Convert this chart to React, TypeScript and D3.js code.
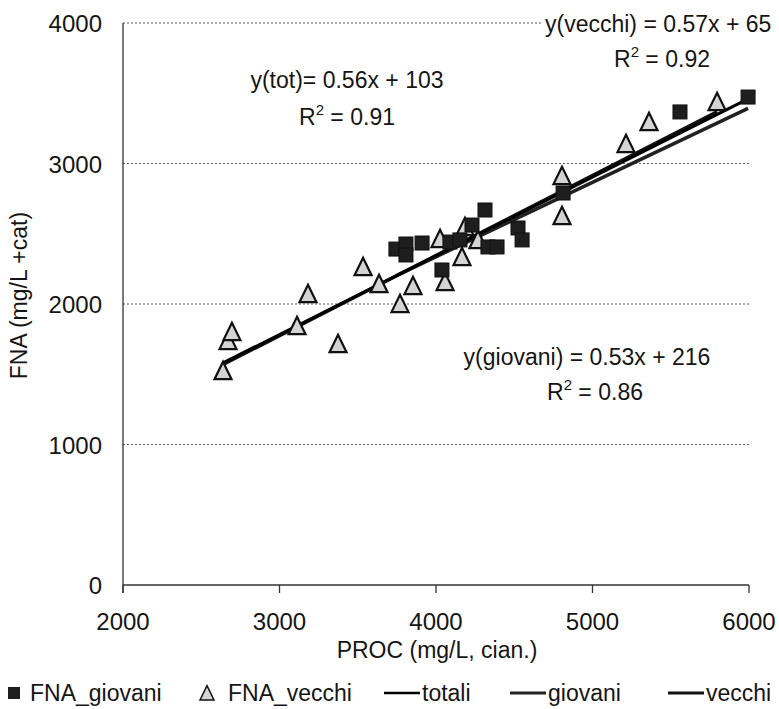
import React from 'react';
import * as d3 from 'd3';

// FNA_giovani (squares)
const giovaniX = [3744, 3808, 3808, 3911, 4038, 4089, 4153, 4230, 4313, 4332, 4390, 4524, 4550, 4812, 5559, 5994];
const giovaniY = [2391, 2427, 2349, 2434, 2242, 2441, 2456, 2562, 2669, 2406, 2406, 2541, 2456, 2790, 3367, 3473];

// FNA_vecchi (triangles)
const vecchiX = [2639, 2671, 2696, 3112, 3182, 3374, 3534, 3636, 3770, 3853, 4026, 4058, 4166, 4185, 4268, 4805, 4805, 5214, 5361, 5796];
const vecchiY = [1516, 1730, 1794, 1836, 2064, 1708, 2256, 2135, 1993, 2121, 2456, 2149, 2327, 2541, 2448, 2904, 2619, 3132, 3288, 3431];

// trend lines: [slope, intercept, xFrom, xTo]
const trendTot = [0.56, 103, 2639, 5994];
const trendGiovani = [0.53, 216, 3744, 5994];
const trendVecchi = [0.57, 65, 2639, 5796];

const xTicks = [2000, 3000, 4000, 5000, 6000];
const yTicks = [0, 1000, 2000, 3000, 4000];

const FONT = '"Liberation Sans", Arial, sans-serif';

export default function App() {
  const width = 779;
  const height = 709;
  const x = d3.scaleLinear().domain([2000, 6000]).range([123, 749]);
  const y = d3.scaleLinear().domain([0, 4000]).range([585, 23]);

  const line = d3.line<[number, number]>().x(d => x(d[0])).y(d => y(d[1]));
  const trend = (t: number[]) =>
    line([[t[2], t[0] * t[2] + t[1]], [t[3], t[0] * t[3] + t[1]]]) || '';

  const tri = (cx: number, cy: number, s: number) =>
    `M${cx},${cy - s * 0.6}L${cx + s / 2},${cy + s * 0.42}L${cx - s / 2},${cy + s * 0.42}Z`;

  const sq = 14;
  const ts = 17;
  const txt = '#151515';

  return (
    <svg width={width} height={height} style={{ position: 'absolute', left: 0, top: 0, background: 'white' }}
      fontFamily={FONT}>
      {/* grid */}
      {yTicks.filter(d => d > 0).map(d => (
        <line key={d} x1={x(2000)} x2={x(6000)} y1={y(d)} y2={y(d)}
          stroke="#555" strokeWidth={1} strokeDasharray="2,2" />
      ))}
      {/* axes */}
      <line x1={x(2000)} x2={x(2000)} y1={y(4000)} y2={y(0) + 8} stroke="#333" strokeWidth={1.3} />
      <line x1={x(2000)} x2={x(6000)} y1={y(0)} y2={y(0)} stroke="#333" strokeWidth={1.3} />
      {xTicks.map(d => (
        <g key={d}>
          <line x1={x(d)} x2={x(d)} y1={y(0)} y2={y(0) + 8} stroke="#333" strokeWidth={1.3} />
          <text x={x(d)} y={y(0) + 45} textAnchor="middle" fontSize={24} fill={txt}>{d}</text>
        </g>
      ))}
      {yTicks.map(d => (
        <text key={d} x={x(2000) - 21} y={y(d) + 9} textAnchor="end" fontSize={24} fill={txt}>{d}</text>
      ))}
      <text x={437} y={658} textAnchor="middle" fontSize={23} fill={txt}>PROC (mg/L, cian.)</text>
      <text transform={`translate(27,${y(2060)}) rotate(-90)`} textAnchor="middle" fontSize={23} fill={txt}>FNA (mg/L +cat)</text>

      {/* trend lines */}
      <path d={trend(trendVecchi)} stroke="#111" strokeWidth={3.5} fill="none" />
      <path d={trend(trendGiovani)} stroke="#222" strokeWidth={3.5} fill="none" />
      <path d={trend(trendTot)} stroke="#000" strokeWidth={3} fill="none" />

      {/* points */}
      {vecchiX.map((vx, i) => (
        <path key={'v' + i} d={tri(x(vx), y(vecchiY[i]), ts)} fill="#d4d4d4" stroke="#111" strokeWidth={2.2} />
      ))}
      {giovaniX.map((gx, i) => (
        <rect key={'g' + i} x={x(gx) - sq / 2} y={y(giovaniY[i]) - sq / 2} width={sq} height={sq}
          fill="#1e1e1e" stroke="#111" strokeWidth={1} />
      ))}

      {/* annotations */}
      <rect x={543} y={8} width={236} height={30} fill="white" />
      <text x={545} y={32} fontSize={23} fill={txt}>y(vecchi) = 0.57x + 65</text>
      <text x={662} y={67} textAnchor="middle" fontSize={23} fill={txt}>R<tspan dy={-10} fontSize={15}>2</tspan><tspan dy={10}> = 0.92</tspan></text>
      <text x={347} y={88} textAnchor="middle" fontSize={23} fill={txt}>y(tot)= 0.56x + 103</text>
      <text x={347} y={125} textAnchor="middle" fontSize={23} fill={txt}>R<tspan dy={-10} fontSize={15}>2</tspan><tspan dy={10}> = 0.91</tspan></text>
      <text x={587} y={365} textAnchor="middle" fontSize={23} fill={txt}>y(giovani) = 0.53x + 216</text>
      <text x={595} y={400} textAnchor="middle" fontSize={23} fill={txt}>R<tspan dy={-10} fontSize={15}>2</tspan><tspan dy={10}> = 0.86</tspan></text>

      {/* legend */}
      <g fontSize={23} fill={txt}>
        <rect x={8} y={687} width={12} height={12} fill="#1e1e1e" />
        <text x={30} y={701}>FNA_giovani</text>
        <path d={tri(207, 694, 14)} fill="#d4d4d4" stroke="#111" strokeWidth={1.5} />
        <text x={228} y={701}>FNA_vecchi</text>
        <line x1={384} x2={420} y1={693} y2={693} stroke="#000" strokeWidth={2.5} />
        <text x={422} y={701}>totali</text>
        <line x1={510} x2={546} y1={693} y2={693} stroke="#222" strokeWidth={3} />
        <text x={548} y={701}>giovani</text>
        <line x1={668} x2={704} y1={693} y2={693} stroke="#111" strokeWidth={3} />
        <text x={706} y={701}>vecchi</text>
      </g>
    </svg>
  );
}
